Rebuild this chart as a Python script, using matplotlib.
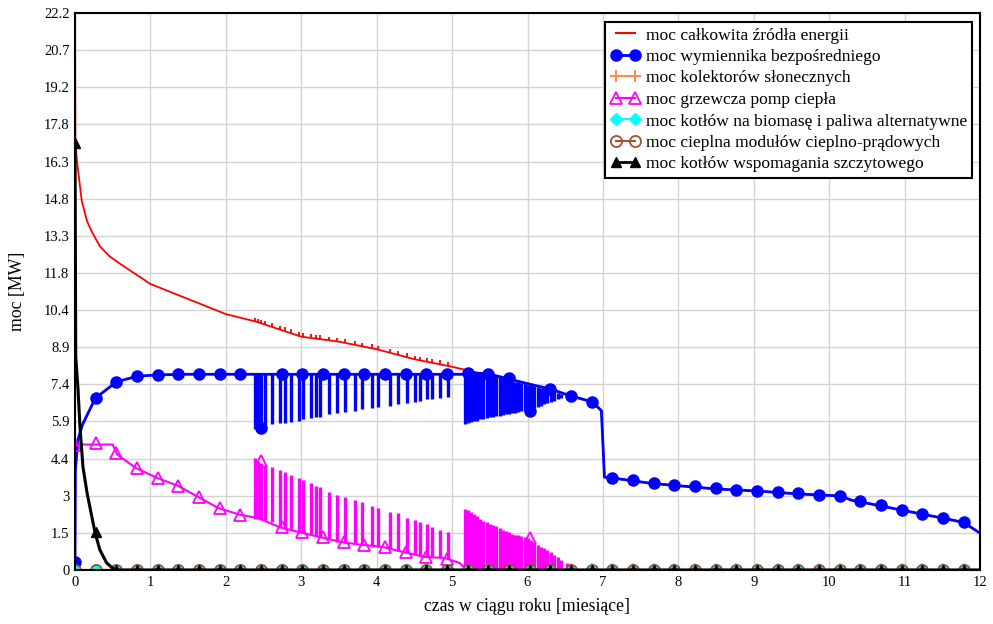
import matplotlib.pyplot as plt
from matplotlib.lines import Line2D
import numpy as np

plt.rcParams['font.family'] = ['Liberation Serif', 'DejaVu Serif']

# --- data (t in months, power in MW) ---
red_t = [0, 0.005, 0.02, 0.03, 0.09, 0.16, 0.22, 0.33, 0.46, 0.6, 1.0, 1.5, 2.0, 2.4, 3.0,
         3.5, 4.0, 4.5, 5.0, 5.5, 6.0, 6.5, 6.86, 6.98, 7.02, 7.12, 7.65, 8.5, 9.04, 9.6,
         10.15, 10.3, 10.44, 10.94, 11.5, 11.78, 12]
red_v = [22.2, 17.2, 16.5, 16.2, 14.7, 13.9, 13.5, 12.9, 12.5, 12.2, 11.4, 10.8, 10.2, 9.9, 9.3,
         9.1, 8.8, 8.4, 8.1, 7.75, 7.45, 7.0, 6.7, 6.35, 3.7, 3.67, 3.45, 3.23, 3.15, 3.03,
         2.95, 2.78, 2.7, 2.4, 2.07, 1.9, 1.47]

blue_t = [0, 0.005, 0.04, 0.1, 0.27, 0.55, 0.82, 1.1, 1.5, 5.15, 5.2, 5.5, 5.75, 6.0, 6.3,
          6.56, 6.86, 6.98, 7.02, 7.12, 7.65, 8.5, 9.04, 9.6, 10.15, 10.3, 10.44, 10.94,
          11.5, 11.78, 12]
blue_v = [0.3, 4.0, 5.2, 5.8, 6.85, 7.5, 7.72, 7.78, 7.8, 7.8, 7.88, 7.8, 7.62, 7.42, 7.22,
          6.95, 6.7, 6.35, 3.7, 3.67, 3.45, 3.23, 3.15, 3.03, 2.95, 2.78, 2.7, 2.4,
          2.07, 1.9, 1.47]

mag_t = [0, 0.01, 0.5, 0.56, 0.81, 1.09, 1.37, 1.64, 1.9, 2.19, 2.43, 2.72, 2.98, 3.27,
         3.55, 3.82, 4.08, 4.35, 4.64, 4.9, 5.1, 5.2, 12]
mag_v = [4.9, 5.0, 5.0, 4.6, 4.06, 3.67, 3.35, 2.9, 2.47, 2.2, 2.07, 1.7, 1.5, 1.3,
         1.1, 1.0, 0.92, 0.72, 0.52, 0.48, 0.28, 0.0, 0.0]

black_t = [0, 0.01, 0.04, 0.066, 0.106, 0.16, 0.225, 0.265, 0.33, 0.42, 0.49, 0.55, 12]
black_v = [17.0, 8.5, 7.2, 5.7, 4.1, 3.07, 2.1, 1.5, 0.8, 0.28, 0.1, 0.0, 0.0]

zero_t = [0, 12]
zero_v = [0, 0]

# switching pulses, first block (exchanger down / heat pump up)
sw1_t = [2.387, 2.427, 2.467, 2.52, 2.613, 2.719, 2.785, 2.865, 2.971, 3.024, 3.13, 3.196,
         3.249, 3.369, 3.475, 3.581, 3.714, 3.806, 3.939, 4.019, 4.178, 4.284, 4.403,
         4.509, 4.576, 4.668, 4.735, 4.841, 4.947]
sw1_blue_lo = [5.6, 5.65, 5.7, 5.75, 5.8, 5.85, 5.85, 5.9, 5.95, 6.0, 6.05, 6.1, 6.1, 6.2,
               6.25, 6.3, 6.35, 6.4, 6.45, 6.5, 6.55, 6.6, 6.65, 6.7, 6.75, 6.8, 6.8, 6.85, 6.9]
sw1_mag_lo = [2.05, 2.03, 2.0, 1.98, 1.9, 1.72, 1.68, 1.62, 1.52, 1.5, 1.42, 1.37, 1.32,
              1.22, 1.12, 1.08, 1.02, 0.98, 0.93, 0.9, 0.82, 0.75, 0.68, 0.62, 0.58, 0.54,
              0.52, 0.5, 0.47]
sw1_mag_hi = [4.45, 4.35, 4.25, 4.2, 4.1, 4.0, 3.9, 3.8, 3.67, 3.6, 3.45, 3.35, 3.3, 3.1,
              3.0, 2.9, 2.8, 2.7, 2.55, 2.47, 2.3, 2.27, 2.07, 2.0, 1.9, 1.83, 1.7, 1.6, 1.5]
# small upward ripples on the total curve at the switching instants
sw1_red_lo = [9.91, 9.87, 9.83, 9.78, 9.69, 9.58, 9.52, 9.44, 9.33, 9.29, 9.25, 9.22, 9.2,
              9.15, 9.1, 9.05, 8.97, 8.91, 8.84, 8.78, 8.66, 8.58, 8.48, 8.39, 8.35, 8.3,
              8.26, 8.2, 8.13]

# second block
sw2_t = [5.17, 5.21, 5.25, 5.29, 5.33, 5.37, 5.41, 5.46, 5.50, 5.54, 5.58, 5.63, 5.67, 5.71,
         5.75, 5.80, 5.84, 5.88, 5.92, 5.97, 6.01, 6.05, 6.09, 6.14, 6.18, 6.22, 6.26, 6.31,
         6.35, 6.40, 6.45, 6.52]
sw2_blue_hi = [7.9, 7.89, 7.88, 7.87, 7.86, 7.85, 7.85, 7.83, 7.8, 7.76, 7.72, 7.68, 7.65,
               7.62, 7.58, 7.54, 7.51, 7.48, 7.45, 7.42, 7.39, 7.36, 7.33, 7.3, 7.27, 7.24,
               7.2, 7.15, 7.1, 7.05, 7.0, 6.95]
sw2_blue_lo = [5.8, 5.85, 5.9, 5.92, 5.95, 6.0, 6.02, 6.05, 6.08, 6.1, 6.12, 6.15, 6.18, 6.2,
               6.22, 6.25, 6.27, 6.3, 6.32, 6.33, 6.35, 6.4, 6.45, 6.5, 6.55, 6.6, 6.65, 6.7,
               6.75, 6.8, 6.85, 6.9]
sw2_mag_hi = [2.45, 2.38, 2.3, 2.22, 2.15, 2.05, 1.95, 1.9, 1.85, 1.8, 1.75, 1.68, 1.6, 1.55,
              1.5, 1.45, 1.4, 1.38, 1.35, 1.3, 1.27, 1.18, 1.1, 1.0, 0.92, 0.86, 0.8, 0.7,
              0.6, 0.5, 0.4, 0.28]

# marker positions (every 0.274 month)
mk_t = np.arange(44) * 0.274
blue_mk = [0.3, 6.85, 7.5, 7.72, 7.78, 7.8, 7.8, 7.8, 7.8, 5.65, 7.8, 7.8, 7.8, 7.8, 7.8,
           7.8, 7.8, 7.8, 7.8, 7.85, 7.82, 7.65, 6.33, 7.2, 6.95, 6.7, 3.67, 3.6, 3.45, 3.4,
           3.33, 3.25, 3.2, 3.15, 3.1, 3.05, 3.0, 2.95, 2.75, 2.58, 2.4, 2.25, 2.07, 1.9]
mag_mk = [5.0, 5.05, 4.65, 4.06, 3.67, 3.35, 2.9, 2.47, 2.2, 4.35, 1.7, 1.5, 1.3, 1.1, 1.0,
          0.92, 0.72, 0.52, 0.45, 0, 0, 0, 1.27, 0, 0, 0, 0, 0, 0, 0, 0, 0, 0, 0, 0, 0, 0,
          0, 0, 0, 0, 0, 0, 0]
black_mk = [17.0, 1.5] + [0] * 42
zero_mk = [0] * 44

ytick_labels = ['0', '1.5', '3', '4.4', '5.9', '7.4', '8.9', '10.4', '11.8', '13.3', '14.8',
                '16.3', '17.8', '19.2', '20.7', '22.2']
xtick_labels = [str(m) for m in range(13)]

labels = ['moc całkowita źródła energii',
          'moc wymiennika bezpośredniego',
          'moc kolektorów słonecznych',
          'moc grzewcza pomp ciepła',
          'moc kotłów na biomasę i paliwa alternatywne',
          'moc cieplna modułów cieplno-prądowych',
          'moc kotłów wspomagania szczytowego']

c_red = '#FF0000'
c_blue = '#0000FF'
c_orange = '#FF8C4A'
c_mag = '#FF00FF'
c_cyan = '#00FFFF'
c_brown = '#A0522D'
c_black = '#000000'

fig = plt.figure(figsize=(9.93, 6.24), dpi=100)
ax = fig.add_axes([75 / 993, 54 / 624, 905 / 993, 557 / 624])

# total
ax.plot(red_t, red_v, color=c_red, lw=1.3, zorder=3)
ax.vlines(sw1_t, sw1_red_lo, np.array(sw1_red_lo) + 0.15, color=c_red, lw=1.3, zorder=3)

# exchanger
ax.plot(blue_t, blue_v, color=c_blue, lw=2, zorder=4)
ax.vlines(sw1_t, sw1_blue_lo, 7.8, color=c_blue, lw=2.4, zorder=4)
ax.vlines(sw2_t, sw2_blue_lo, sw2_blue_hi, color=c_blue, lw=2.4, zorder=4)
ax.plot(mk_t, blue_mk, ls='none', marker='o', ms=8, color=c_blue, zorder=4)

# solar collectors
ax.plot(zero_t, zero_v, color=c_orange, lw=1.5, zorder=5)
ax.plot(mk_t, zero_mk, ls='none', marker='+', ms=9, mew=1.5, color=c_orange, zorder=5)

# heat pumps
ax.plot(mag_t, mag_v, color=c_mag, lw=1.5, zorder=6)
ax.vlines(sw1_t, sw1_mag_lo, sw1_mag_hi, color=c_mag, lw=2.4, zorder=6)
ax.vlines(sw2_t, 0, sw2_mag_hi, color=c_mag, lw=2.4, zorder=6)
ax.plot(mk_t, mag_mk, ls='none', marker='^', ms=8, mew=1.3, mfc='none', color=c_mag, zorder=6)

# biomass
ax.plot(zero_t, zero_v, color=c_cyan, lw=1.5, zorder=7)
ax.plot(mk_t, zero_mk, ls='none', marker='D', ms=6, color=c_cyan, zorder=7)

# CHP
ax.plot(zero_t, zero_v, color=c_brown, lw=1.5, zorder=8)
ax.plot(mk_t, zero_mk, ls='none', marker='o', ms=8, mew=1.3, mfc='none', color=c_brown, zorder=8)

# peak boilers
ax.plot(black_t, black_v, color=c_black, lw=2.2, zorder=9)
ax.plot(mk_t, black_mk, ls='none', marker='^', ms=7, color=c_black, zorder=9)

ax.set_xlim(0, 12)
ax.set_ylim(0, 22.2)
ax.set_xticks(range(13))
ax.set_xticklabels(xtick_labels, fontsize=10.5)
ax.set_yticks(np.linspace(0, 22.2, 16))
ax.set_yticklabels(ytick_labels, fontsize=10.5)
ax.tick_params(length=0, pad=4)
ax.grid(color='#D3D3D3', lw=1)
ax.set_axisbelow(True)
for s in ax.spines.values():
    s.set_linewidth(1.5)
    s.set_zorder(10)

ax.set_xlabel('czas w ciągu roku [miesiące]', fontsize=12.8)
ax.xaxis.set_label_coords(0.5, -0.066)
ax.xaxis.label.set_va('center')
ax.set_ylabel('moc [MW]', fontsize=12.8)
ax.yaxis.set_label_coords(-0.063, 0.5)
ax.yaxis.label.set_va('center')

handles = [
    Line2D([], [], color=c_red, lw=1.5),
    Line2D([], [], color=c_blue, lw=2, marker='o', ms=8),
    Line2D([], [], color=c_orange, lw=1.5, marker='+', ms=9, mew=1.5),
    Line2D([], [], color=c_mag, lw=1.5, marker='^', ms=8, mfc='none', mew=1.3),
    Line2D([], [], color=c_cyan, lw=1.5, marker='D', ms=6),
    Line2D([], [], color=c_brown, lw=1.5, marker='o', ms=8, mfc='none', mew=1.3),
    Line2D([], [], color=c_black, lw=2, marker='^', ms=7),
]
leg = ax.legend(handles, labels, loc='upper right', bbox_to_anchor=(972 / 993, 1 - 22 / 624),
                bbox_transform=fig.transFigure, fontsize=12.6, numpoints=2, handlelength=1.7,
                handletextpad=0.3, labelspacing=0.3, borderpad=0.3, borderaxespad=0,
                fancybox=False, framealpha=1, edgecolor='black')
leg.get_frame().set_linewidth(1.5)
leg.set_zorder(11)

plt.savefig('out.png', dpi=100)
